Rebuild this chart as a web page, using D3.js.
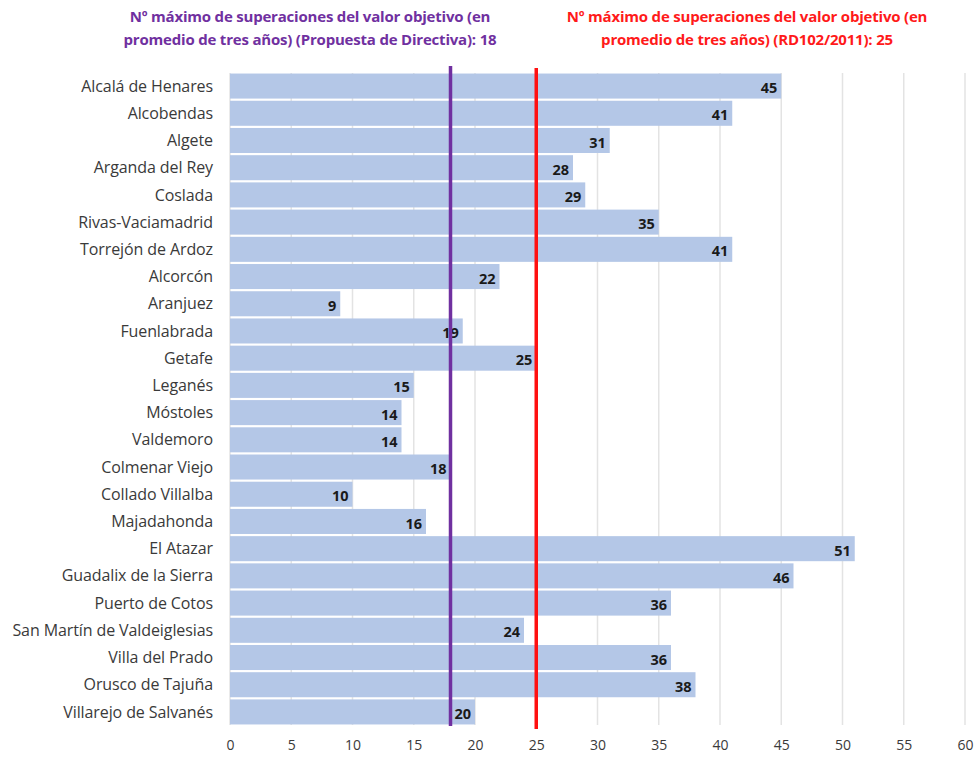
<!DOCTYPE html>
<html>
<head>
<meta charset="utf-8">
<script src="https://d3js.org/d3.v7.min.js"></script>
<style>
  body { margin: 0; background: #fff; }
  svg { font-family: "Open Sans", Lato, sans-serif; }
</style>
</head>
<body>
<div id="chart"></div>
<script>
// data
let municipios = [
  "Alcalá de Henares", "Alcobendas", "Algete", "Arganda del Rey", "Coslada",
  "Rivas-Vaciamadrid", "Torrejón de Ardoz", "Alcorcón", "Aranjuez", "Fuenlabrada",
  "Getafe", "Leganés", "Móstoles", "Valdemoro", "Colmenar Viejo",
  "Collado Villalba", "Majadahonda", "El Atazar", "Guadalix de la Sierra",
  "Puerto de Cotos", "San Martín de Valdeiglesias", "Villa del Prado",
  "Orusco de Tajuña", "Villarejo de Salvanés"
];
let superaciones = [45, 41, 31, 28, 29, 35, 41, 22, 9, 19, 25, 15, 14, 14, 18, 10, 16, 51, 46, 36, 24, 36, 38, 20];
let xTicks = [0, 5, 10, 15, 20, 25, 30, 35, 40, 45, 50, 55, 60];

let limiteDirectiva = 18;
let limiteRD = 25;
let tituloDirectiva = ["Nº máximo de superaciones del valor objetivo (en", "promedio de tres años) (Propuesta de Directiva): 18"];
let tituloRD = ["Nº máximo de superaciones del valor objetivo (en", "promedio de tres años) (RD102/2011): 25"];

let data = municipios.map((m, i) => ({ name: m, value: superaciones[i] }));

let width = 977, height = 762;
let margin = { top: 73, right: 12, bottom: 37, left: 230 };

let svg = d3.select("#chart")
  .append("svg")
  .attr("width", width)
  .attr("height", height);

let x = d3.scaleLinear()
  .domain([0, 60])
  .range([margin.left, width - margin.right]);

let y = d3.scaleBand()
  .domain(municipios)
  .range([margin.top, height - margin.bottom])
  .paddingInner(0.08)
  .paddingOuter(0.02);

// gridlines
svg.append("g")
  .selectAll("line")
  .data(xTicks)
  .enter()
  .append("line")
  .attr("x1", d => x(d))
  .attr("x2", d => x(d))
  .attr("y1", margin.top)
  .attr("y2", height - margin.bottom)
  .attr("stroke", "#e3e3e3")
  .attr("stroke-width", 1.5);

// bars
svg.append("g")
  .selectAll("rect")
  .data(data)
  .enter()
  .append("rect")
  .attr("x", x(0))
  .attr("y", d => y(d.name))
  .attr("width", d => x(d.value) - x(0))
  .attr("height", y.bandwidth())
  .attr("fill", "#b4c7e7");

// category labels
svg.append("g")
  .selectAll("text")
  .data(data)
  .enter()
  .append("text")
  .attr("x", margin.left - 17)
  .attr("y", d => y(d.name) + y.bandwidth() / 2)
  .attr("dy", "0.35em")
  .attr("text-anchor", "end")
  .style("font-size", "16px")
  .style("letter-spacing", "-0.1px")
  .style("fill", "#3a3a3a")
  .text(d => d.name);

// value labels
svg.append("g")
  .selectAll("text")
  .data(data)
  .enter()
  .append("text")
  .attr("x", d => x(d.value) - 4)
  .attr("y", d => y(d.name) + y.bandwidth() / 2 + 2)
  .attr("dy", "0.35em")
  .attr("text-anchor", "end")
  .style("font-size", "14.5px")
  .style("font-weight", "700")
  .style("fill", "#1a1a1a")
  .text(d => d.value);

// x axis labels
let xAxis = d3.axisBottom(x).tickValues(xTicks).tickSize(0).tickPadding(0);
svg.append("g")
  .attr("transform", `translate(0, ${height - margin.bottom + 15})`)
  .call(xAxis)
  .call(g => g.select(".domain").remove())
  .selectAll("text")
  .style("font-family", "'Open Sans', Lato, sans-serif")
  .style("font-size", "14px")
  .style("fill", "#3a3a3a");

// reference lines
svg.append("line")
  .attr("x1", x(limiteDirectiva))
  .attr("x2", x(limiteDirectiva))
  .attr("y1", 66)
  .attr("y2", height - margin.bottom + 1)
  .attr("stroke", "#7030a0")
  .attr("stroke-width", 3.5);

svg.append("line")
  .attr("x1", x(limiteRD))
  .attr("x2", x(limiteRD))
  .attr("y1", 68)
  .attr("y2", height - margin.bottom + 4)
  .attr("stroke", "#ff1010")
  .attr("stroke-width", 3.5);

// titles
let t1 = svg.append("text")
  .attr("x", 310)
  .attr("y", 22)
  .attr("text-anchor", "middle")
  .style("font-size", "15px")
  .style("font-weight", "700")
  .style("letter-spacing", "-0.2px")
  .style("fill", "#7030a0");
tituloDirectiva.forEach((l, i) => {
  t1.append("tspan").attr("x", 310).attr("dy", i === 0 ? 0 : 23).text(l);
});

let t2 = svg.append("text")
  .attr("x", 747)
  .attr("y", 22)
  .attr("text-anchor", "middle")
  .style("font-size", "15px")
  .style("font-weight", "700")
  .style("letter-spacing", "-0.2px")
  .style("fill", "#ff1a1a");
tituloRD.forEach((l, i) => {
  t2.append("tspan").attr("x", 747).attr("dy", i === 0 ? 0 : 23).text(l);
});
</script>
</body>
</html>
